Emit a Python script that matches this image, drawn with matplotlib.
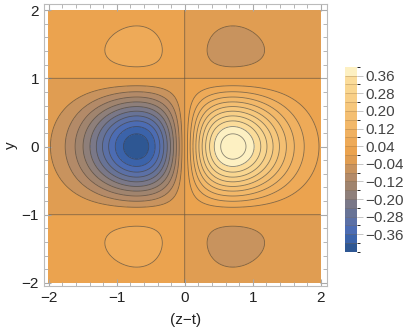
import numpy as np
import matplotlib
matplotlib.use('Agg')
import matplotlib.pyplot as plt
from matplotlib.colors import ListedColormap, BoundaryNorm
from matplotlib.cm import ScalarMappable
from matplotlib.ticker import MultipleLocator

plt.rcParams['font.family'] = ['Liberation Sans', 'DejaVu Sans']

# ── Datos ─────────────────────────────────────────────────────────────────────
# campo: (z-t)*exp(-(z-t)^2) * (1-y^2)*exp(-y^2)
X_RANGE = (-2, 2)
Y_RANGE = (-2, 2)
N_GRID = 400

# niveles de contorno y colores de banda (de abajo a arriba)
LEVELS = np.round(np.arange(-0.44, 0.4001, 0.04), 2)
BAND_COLORS = [
    '#2e5793', '#3b63aa', '#4c6cb3', '#5b70a6', '#687396', '#7a7888',
    '#8e7f7a', '#a0846e', '#b38a68', '#c8935e', '#e09d52', '#eba34f',
    '#eeaa58', '#f0b161', '#f2b869', '#f4bf72', '#f6c77c', '#f8cf87',
    '#f9d690', '#fbdc9a', '#fdf0c2',
]
CBAR_TICKS = [-0.36, -0.28, -0.20, -0.12, -0.04, 0.04, 0.12, 0.20, 0.28, 0.36]

x = np.linspace(*X_RANGE, N_GRID)
y = np.linspace(*Y_RANGE, N_GRID)
XX, YY = np.meshgrid(x, y)
Z = XX * np.exp(-XX**2) * (1 - YY**2) * np.exp(-YY**2)

cmap = ListedColormap(BAND_COLORS)
cmap.set_over(BAND_COLORS[-1])
cmap.set_under(BAND_COLORS[0])
norm = BoundaryNorm(LEVELS, cmap.N)

fig = plt.figure(figsize=(4.07, 3.31), dpi=100)
ax = fig.add_axes([0.108, 0.136, 0.695, 0.851])

ax.contourf(XX, YY, Z, levels=LEVELS, cmap=cmap, norm=norm, extend='both')
ax.contour(XX, YY, Z, levels=np.append(LEVELS, 0.44), colors='#3a3a3a',
           linewidths=0.6, alpha=0.6, linestyles='solid')

ax.set_xlim(-2.07, 2.09)
ax.set_ylim(-2.045, 2.085)
ax.xaxis.set_major_locator(MultipleLocator(1))
ax.yaxis.set_major_locator(MultipleLocator(1))
ax.xaxis.set_minor_locator(MultipleLocator(0.2))
ax.yaxis.set_minor_locator(MultipleLocator(0.2))
ax.tick_params(which='both', direction='in', top=True, right=True,
               color='#aaaaaa', labelsize=11, labelcolor='#222222')
ax.tick_params(which='major', length=5, width=0.8)
ax.tick_params(which='minor', length=3, width=0.6)
for sp in ax.spines.values():
    sp.set_color('#bbbbbb')
    sp.set_linewidth(0.8)

ax.set_xlabel('(z\u2212t)', fontsize=11, color='#222222', labelpad=6)
ax.set_ylabel('y', fontsize=11, color='#222222', labelpad=3)

# barra de colores
cax = fig.add_axes([0.848, 0.239, 0.0295, 0.559])
sm = ScalarMappable(norm=norm, cmap=cmap)
cb = fig.colorbar(sm, cax=cax, boundaries=LEVELS, ticks=CBAR_TICKS,
                  drawedges=True)
cb.outline.set_visible(False)
cb.dividers.set_color('#8a6a40')
cb.dividers.set_alpha(0.35)
cb.dividers.set_linewidth(0.6)
cb.ax.set_yticklabels([f'{t:.2f}'.replace('-', '\u2212') for t in CBAR_TICKS])
cb.ax.tick_params(length=4, width=0.6, color='#bbbbbb', labelsize=11,
                  labelcolor='#444444', pad=2)

plt.savefig('out.png', dpi=100)
plt.close()
